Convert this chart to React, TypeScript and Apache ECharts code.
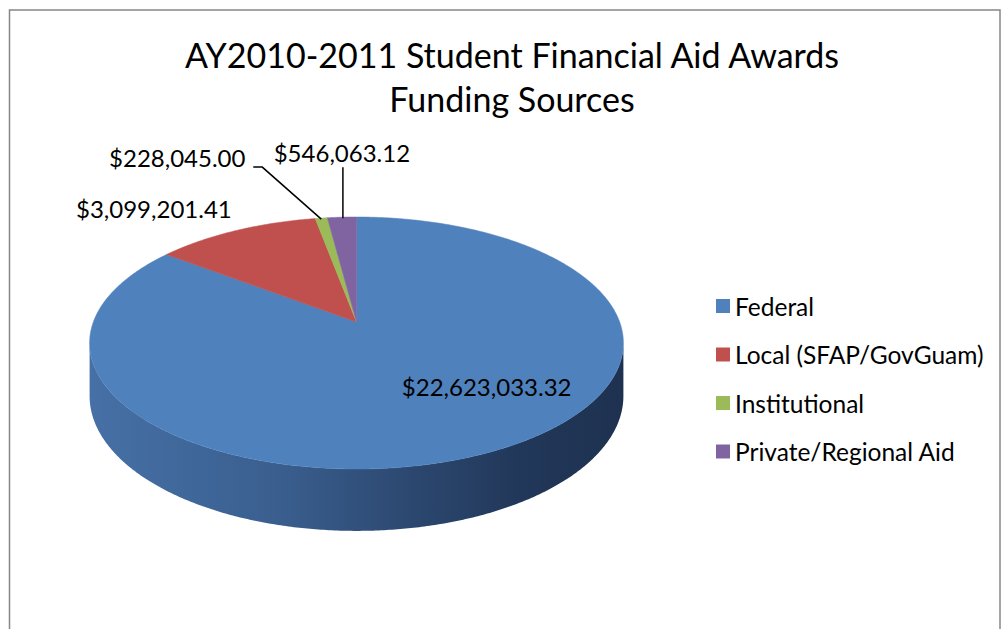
import React, { useEffect, useRef } from 'react';
import * as echarts from 'echarts';

const titleLines = ['AY2010-2011 Student Financial Aid Awards', 'Funding Sources'];
const categories = ['Federal', 'Local (SFAP/GovGuam)', 'Institutional', 'Private/Regional Aid'];
const amounts = [22623033.32, 3099201.41, 228045.0, 546063.12];
const colors = ['#4F81BD', '#C0504D', '#9BBB59', '#8064A2'];

// label placement relative to each slice's outer-edge midpoint (styling only)
const labelOffsets: { dx: number; dy: number; leader: number[][] | null }[] = [
  { dx: -7, dy: -65, leader: null },
  { dx: -82, dy: -22, leader: null },
  { dx: -144, dy: -61, leader: [[0, 1], [-59, -51], [-68, -51]] },
  { dx: 0, dy: -65, leader: [[1, 1], [1, -50]] },
];

// perspective projection of the 3D disc
const CX = 356.5;
const YH = -413;
const F = 1579;
const D = 6;
const H = 2.7929;
const T = 0.196;

const total = amounts.reduce((a, b) => a + b, 0);
const starts: number[] = [];
{
  let acc = 0;
  amounts.forEach((v) => {
    starts.push(acc);
    acc += v;
  });
}

function proj(theta: number, depth: number): number[] {
  const X = Math.sin(theta);
  const Z = Math.cos(theta);
  const w = D + Z;
  return [CX + (F * X) / w, YH + (F * (H + depth)) / w];
}

function arc(a: number, b: number, depth: number): number[][] {
  const n = Math.max(2, Math.ceil(Math.abs(b - a) / (Math.PI / 360)));
  const pts: number[][] = [];
  for (let i = 0; i <= n; i++) pts.push(proj(a + ((b - a) * i) / n, depth));
  return pts;
}

function fmt(v: number): string {
  return '$' + v.toLocaleString('en-US', { minimumFractionDigits: 2, maximumFractionDigits: 2 });
}

const FONT = 'Lato';

export default function App() {
  const ref = useRef<HTMLDivElement>(null);
  useEffect(() => {
    if (!ref.current) return;
    const chart = echarts.init(ref.current, undefined, { renderer: 'svg' });
    const visA = Math.acos(-1 / D);
    const visB = 2 * Math.PI - visA;
    const wallFill = new echarts.graphic.LinearGradient(
      90, 0, 623, 0,
      [
        { offset: 0, color: '#4670A6' },
        { offset: 0.35, color: '#3A5F8F' },
        { offset: 0.6, color: '#2C4870' },
        { offset: 0.8, color: '#22385A' },
        { offset: 1, color: '#1E3150' },
      ],
      true
    );
    const option: any = {
      animation: false,
      backgroundColor: '#ffffff',
      graphic: [
        {
          type: 'rect',
          shape: { x: 9.5, y: 10, width: 990.5, height: 660 },
          style: { fill: 'none', stroke: '#868686', lineWidth: 1.5 },
          silent: true,
        },
        {
          type: 'text',
          x: 512,
          y: 54,
          style: { text: titleLines[0], font: `34px ${FONT}`, fill: '#000', align: 'center', verticalAlign: 'middle' },
        },
        {
          type: 'text',
          x: 512,
          y: 98,
          style: { text: titleLines[1], font: `34px ${FONT}`, fill: '#000', align: 'center', verticalAlign: 'middle' },
        },
      ],
      legend: {
        orient: 'vertical',
        left: 716,
        top: 293,
        padding: 0,
        icon: 'rect',
        itemWidth: 14,
        itemHeight: 14,
        itemGap: 22.5,
        selectedMode: false,
        data: categories,
        textStyle: { fontFamily: FONT, fontSize: 24.5, color: '#000', lineHeight: 26 },
      },
      series: [
        {
          type: 'pie',
          radius: [0, 0],
          center: [-100, -100],
          silent: true,
          label: { show: false },
          labelLine: { show: false },
          data: categories.map((c, i) => ({ name: c, value: amounts[i], itemStyle: { color: colors[i] } })),
        },
        {
          type: 'custom',
          coordinateSystem: 'none',
          data: amounts.map((v, i) => [v, i]),
          renderItem: (params: any, api: any) => {
            const i = params.dataIndex;
            const v = api.value(0);
            const a = (starts[i] / total) * 2 * Math.PI;
            const b = a + (v / total) * 2 * Math.PI;
            const children: any[] = [];
            // side wall (visible part only)
            const wa = Math.max(a, visA);
            const wb = Math.min(b, visB);
            if (wb > wa) {
              const pts = arc(wa, wb, 0).concat(arc(wb, wa, T));
              children.push({
                type: 'polygon',
                shape: { points: pts },
                style: { fill: wallFill, stroke: 'none' },
                z2: 1,
              });
            }
            // top face
            const c = [CX, YH + (F * H) / D];
            const topPts = [c].concat(arc(a, b, 0));
            children.push({
              type: 'polygon',
              shape: { points: topPts },
              style: { fill: colors[i], stroke: colors[i], lineWidth: 0.5 },
              z2: 2,
            });
            // label
            const mid = (a + b) / 2;
            const anchor = proj(mid, 0);
            const lo = labelOffsets[i];
            if (lo.leader) {
              children.push({
                type: 'polyline',
                shape: { points: lo.leader.map((p) => [anchor[0] + p[0], anchor[1] + p[1]]) },
                style: { stroke: '#000', lineWidth: 1.5, fill: 'none' },
                z2: 5,
              });
            }
            children.push({
              type: 'text',
              x: anchor[0] + lo.dx,
              y: anchor[1] + lo.dy,
              style: {
                text: fmt(v),
                font: `24px ${FONT}`,
                fill: '#000',
                align: 'center',
                verticalAlign: 'middle',
              },
              z2: 6,
            });
            return { type: 'group', children };
          },
        },
      ],
    };
    chart.setOption(option);
    return () => chart.dispose();
  }, []);
  return (
    <div
      ref={ref}
      style={{ position: 'fixed', left: 0, top: 0, width: 1003, height: 629 }}
    />
  );
}
